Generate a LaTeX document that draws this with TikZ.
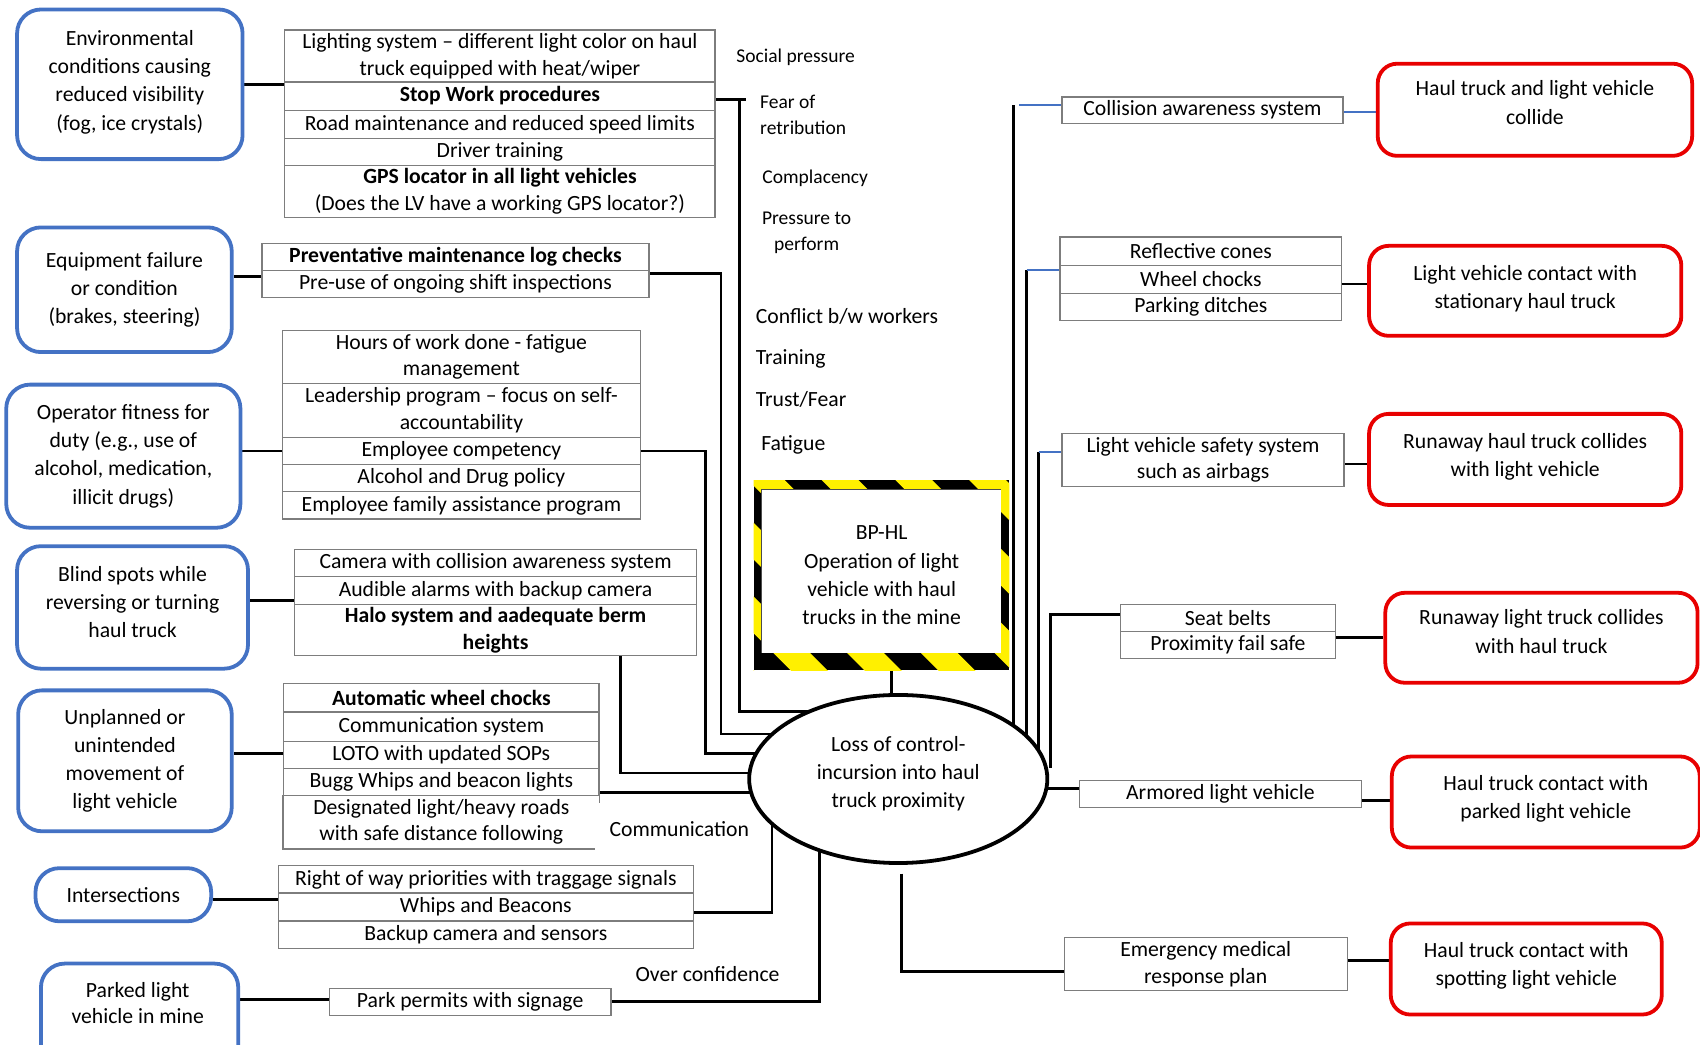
\documentclass[tikz,border=0pt]{standalone}
\usepackage{fontspec}
\setmainfont{Carlito}
\usetikzlibrary{shapes.geometric}
\pgfdeclarelayer{back}
\pgfdeclarelayer{wires}
\pgfsetlayers{back,wires,main}
\definecolor{causeblue}{RGB}{68,114,196}
\definecolor{conseqred}{RGB}{232,0,0}
\definecolor{cellgray}{RGB}{125,125,125}
\definecolor{hazyellow}{RGB}{255,240,0}
% a centred block of lines, drawn #1 higher than its box
\newcommand\liftlines[2]{\raisebox{#1}[\height][\depth]{\begin{tabular}{@{}c@{}}#2\end{tabular}}}
\tikzset{
  wh/.style 2 args={minimum width=#1pt,minimum height=#2pt},
  cell/.style={draw=cellgray,line width=1.2pt,fill=white,inner sep=0pt,anchor=north west,
    align=center,font=\fontsize{20}{24.5}\selectfont},
  cause/.style={draw=causeblue,line width=3.5pt,rounded corners=22pt,fill=white,inner sep=0pt,
    anchor=north west,align=center,font=\fontsize{20}{26}\selectfont},
  conseq/.style={draw=conseqred,line width=3.5pt,rounded corners=18pt,fill=white,inner sep=0pt,
    anchor=north west,align=center,font=\fontsize{20}{26}\selectfont},
  wire/.style={line width=2.6pt,black},
  bluewire/.style={line width=1.6pt,causeblue},
  factor/.style={font=\fontsize{18}{24}\selectfont,inner sep=0pt,anchor=west,align=left},
  factorL/.style={font=\fontsize{20}{24}\selectfont,inner sep=0pt,anchor=west},
}
\begin{document}
\begin{tikzpicture}[x=1pt,y=-1pt]
\useasboundingbox (0,0) rectangle (1568,963);
\begin{pgfonlayer}{back}
  \fill[white] (0,0) rectangle (1568,963);
\end{pgfonlayer}
\clip (0,0) rectangle (1568,963);

% ---------------- causes (blue)
\node[cause,wh={208}{138}] (env) at (14,7) {\liftlines{2pt}{Environmental\\conditions causing\\reduced visibility\\(fog, ice crystals)}};
\node[cause,wh={198}{115}] (equip) at (14,208) {Equipment failure\\or condition\\(brakes, steering)};
\node[cause,wh={216}{132}] (fit) at (4,353) {Operator fitness for\\duty (e.g., use of\\alcohol, medication,\\illicit drugs)};
\node[cause,wh={213}{113}] (blind) at (14,502) {\liftlines{3pt}{Blind spots while\\reversing or turning\\haul truck}};
\node[cause,wh={197}{130}] (unpl) at (15,635) {Unplanned or\\unintended\\movement of\\light vehicle};
\node[cause,wh={162}{49}] (inter) at (31,799) {Intersections};
\node[cause,wh={182}{110}] (park) at (36,887) {};
\node[font=\fontsize{20}{24}\selectfont,align=center,inner sep=0pt] (parktxt) at (127,925) {Parked light\\vehicle in mine};

% ---------------- preventive barriers
\node[cell,wh={397}{48}] (a1) at (262,27) {Lighting system – different light color on haul\\truck equipped with heat/wiper};
\node[cell,wh={397}{26}] (a2) at (262,75) {\textbf{Stop Work procedures}};
\node[cell,wh={397}{26}] (a3) at (262,101) {Road maintenance and reduced speed limits};
\node[cell,wh={397}{25}] (a4) at (262,127) {Driver training};
\node[cell,wh={397}{48}] (a5) at (262,152) {\textbf{GPS locator in all light vehicles}\\(Does the LV have a working GPS locator?)};

\node[cell,wh={357}{25}] (b1) at (241,224) {\textbf{Preventative maintenance log checks}};
\node[cell,wh={357}{25}] (b2) at (241,249) {Pre-use of ongoing shift inspections};

\node[cell,wh={330}{49}] (c1) at (260,304) {Hours of work done - fatigue\\management};
\node[cell,wh={330}{50}] (c2) at (260,353) {Leadership program – focus on self-\\accountability};
\node[cell,wh={330}{25}] (c3) at (260,403) {Employee competency};
\node[cell,wh={330}{25}] (c4) at (260,428) {Alcohol and Drug policy};
\node[cell,wh={330}{25}] (c5) at (260,453) {Employee family assistance program};

\node[cell,wh={371}{25}] (d1) at (271,506) {Camera with collision awareness system};
\node[cell,wh={371}{26}] (d2) at (271,531) {Audible alarms with backup camera};
\node[cell,wh={371}{47}] (d3) at (271,557) {\textbf{Halo system and aadequate berm}\\\textbf{heights}};

\node[cell,wh={291}{26}] (e1) at (261,630) {\textbf{Automatic wheel chocks}};
\node[cell,wh={291}{27}] (e2) at (261,656) {Communication system};
\node[cell,wh={291}{25}] (e3) at (261,683) {LOTO with updated SOPs};
\node[cell,wh={291}{25}] (e4) at (261,708) {Bugg Whips and beacon lights};
\node[cell,draw=none,fill=none,wh={291}{49}] (e5) at (261,733) {Designated light/heavy roads\\with safe distance following};
\draw[cellgray,line width=1.2pt] (e5.north west) -- (e5.south west) -- ([xshift=-4pt]e5.south east);
\draw[cellgray,line width=1.2pt] (e5.north east) -- ++(0,8);

\node[cell,wh={383}{25}] (f1) at (256,798) {Right of way priorities with traggage signals};
\node[cell,wh={383}{26}] (f2) at (256,823) {Whips and Beacons};
\node[cell,wh={383}{25}] (f3) at (256,849) {Backup camera and sensors};

\node[cell,wh={260}{25}] (g1) at (303,911) {Park permits with signage};

% ---------------- threat labels
\node[factor] (sp) at (679,53) {Social pressure};
\node[factor] (fr) at (701,106) {Fear of\\retribution};
\node[factor] (cp) at (703,164) {Complacency};
\node[factor,anchor=center,align=center] (pp) at (744,215) {Pressure to\\perform};
\node[factorL] (cw) at (697,292) {Conflict b/w workers};
\node[factorL] (tr) at (697,331) {Training};
\node[factorL] (tf) at (697,368) {Trust/Fear};
\node[factorL] (fa) at (702,410) {Fatigue};
\node[factorL] (cm) at (562,765) {Communication};
\node[factorL] (oc) at (586,898) {Over confidence};

% ---------------- hazard sign with warning stripes
\begin{scope}
  \clip (695,443) rectangle (931,618);
  \fill[black] (695,443) rectangle (931,618);
  \foreach \k in {460,528,...,936}
    \draw[hazyellow,line width=24pt] (\k,400) -- ++(300,300);
\end{scope}
\fill[white] (702,451) rectangle (923,602);
\draw[black!70,line width=0.8pt] (702,602) -- (702,451) -- (923,451);
\node[wh={236}{175},inner sep=0pt,anchor=north west,align=center,font=\fontsize{20}{26}\selectfont] (haz) at (695,443)
  {BP-HL\\Operation of light\\vehicle with haul\\trucks in the mine};

% ---------------- top event
\node[draw,ellipse,line width=3.5pt,fill=white,minimum width=275pt,minimum height=155pt,inner sep=0pt,
  font=\fontsize{20}{26}\selectfont] (loc) at (828.5,718.5)
  {\liftlines{5pt}{Loss of control-\\incursion into haul\\truck proximity}};

% ---------------- mitigating barriers
\node[cell,wh={259}{24}] (ca) at (979,89) {Collision awareness system};
\node[cell,wh={260}{26}] (rc) at (977,218) {Reflective cones};
\node[cell,wh={260}{26}] (wc) at (977,244) {Wheel chocks};
\node[cell,wh={260}{25}] (pd) at (977,270) {Parking ditches};
\node[cell,wh={260}{49}] (lvs) at (979,399) {Light vehicle safety system\\such as airbags};
\node[cell,wh={198}{25}] (sb) at (1033,557) {Seat belts};
\node[cell,wh={198}{25}] (pf) at (1033,582) {Proximity fail safe};
\node[cell,wh={260}{25}] (alv) at (995,719) {Armored light vehicle};
\node[cell,wh={261}{49}] (emp) at (981,864) {Emergency medical\\response plan};

% ---------------- consequences (red)
\node[conseq,wh={290}{85}] (r1) at (1269,57) {\liftlines{5pt}{Haul truck and light vehicle\\collide}};
\node[conseq,wh={288}{83}] (r2) at (1261,225) {\liftlines{2pt}{Light vehicle contact with\\stationary haul truck}};
\node[conseq,wh={288}{84}] (r3) at (1261,380) {\liftlines{2pt}{Runaway haul truck collides\\with light vehicle}};
\node[conseq,wh={288}{83}] (r4) at (1276,545) {\liftlines{4pt}{Runaway light truck collides\\with haul truck}};
\node[conseq,wh={284}{84}] (r5) at (1282,696) {\liftlines{3pt}{Haul truck contact with\\parked light vehicle}};
\node[conseq,wh={250}{84}] (r6) at (1281,850) {\liftlines{3pt}{Haul truck contact with\\spotting light vehicle}};

% ---------------- connectors
\begin{pgfonlayer}{wires}
  % causes to their barriers
  \draw[wire] (env.east) -- (env.east -| a1.west);
  \draw[wire] (equip.east |- 0,255) -- (b1.west |- 0,255);
  \draw[wire] (fit.east |- 0,416) -- (c3.west |- 0,416);
  \draw[wire] (blind.east |- 0,554) -- (d2.west |- 0,554);
  \draw[wire] (unpl.east |- 0,695) -- (e3.west |- 0,695);
  \draw[wire] (inter.east |- 0,830) -- (f2.west |- 0,830);
  \draw[wire] (park.east |- 0,922) -- (g1.west |- 0,922);
  % barriers to the top event
  \draw[wire] (a2.east |- 0,92) -- (688,92);
  \draw[wire] (a2.east |- 0,92) -| (682,656) -- (loc.center |- 0,656);
  \draw[wire] (b2.east |- 0,252) -| (665,677) -- (loc.center |- 0,677);
  \draw[wire] (c3.east |- 0,416) -| (651,695) -- (loc.center |- 0,695);
  \draw[wire] (d3.south -| 572,0) |- (loc.center |- 0,713);
  \draw[wire] (e4.east |- 0,731) -- (loc.center |- 0,731);
  \draw[wire] (f2.east |- 0,842) -| (loc.center -| 712,0);
  \draw[wire] (g1.east |- 0,924) -| (loc.center -| 756,0);
  \draw[wire] (haz.south -| 822,0) -- (loc.center -| 822,0);
  % top event to mitigations
  \draw[wire] (loc.center -| 935,0) -- (935,97) coordinate (t1);
  \draw[bluewire] ([xshift=5pt]t1) -- (t1 -| ca.west);
  \draw[bluewire] (ca.east |- 0,103) -- (r1.west |- 0,103);
  \draw[wire] (loc.center -| 947,0) -- (947,249) coordinate (t2);
  \draw[bluewire] (t2) -- (t2 -| wc.west);
  \draw[wire] (wc.east |- 0,262) -- (r2.west |- 0,262);
  \draw[wire] (loc.center -| 958,0) -- (958,417) coordinate (t3);
  \draw[bluewire] (t3) -- (t3 -| lvs.west);
  \draw[wire] (lvs.east |- 0,428) -- (r3.west |- 0,428);
  \draw[wire] (sb.west |- 0,567) -| (969,708);
  \draw[wire] (pf.east |- 0,588) -- (r4.west |- 0,588);
  \draw[wire] (loc.center |- 0,727) -- (alv.west |- 0,727);
  \draw[wire] (alv.east |- 0,738) -- (r5.west |- 0,738);
  \draw[wire] ([shift={(3,8)}]loc.south) |- (emp.west |- 0,896);
  \draw[wire] (emp.east |- 0,886) -- (r6.west |- 0,886);
\end{pgfonlayer}
\end{tikzpicture}
\end{document}
